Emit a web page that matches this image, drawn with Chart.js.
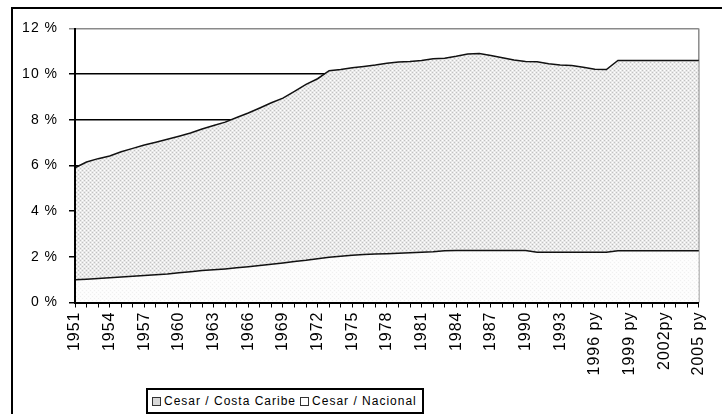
<!DOCTYPE html>
<html>
<head>
<meta charset="utf-8">
<script src="https://cdn.jsdelivr.net/npm/chart.js@4/dist/chart.umd.min.js"></script>
<style>
  html, body { margin: 0; padding: 0; background: #fff; overflow: hidden; }
  #wrap { position: relative; width: 722px; height: 414px; overflow: hidden; }
  #frame { position: absolute; left: 11px; top: 7px; width: 760px; height: 500px; border: 2px solid #000; }
  canvas { position: absolute; left: 0; top: 0; }
  #legend { position: absolute; left: 146px; top: 388px; width: 274px; height: 22px; border: 2px solid #000;
    font-family: "Liberation Sans", Arial, sans-serif; font-size: 12px; letter-spacing: 1px; color: #000;
    display: flex; align-items: center; white-space: nowrap; background: #fff; }
  .sw { display: inline-block; width: 7px; height: 7px; border: 1px solid #333; margin: 0 3px 0 4px; }
</style>
</head>
<body>
<div id="wrap">
  <div id="frame"></div>
  <canvas id="chart" width="722" height="414"></canvas>
  <div id="legend">
    <span class="sw" style="background:#d8d8d8"></span>Cesar / Costa Caribe
    <span class="sw" style="background:#fff"></span>Cesar / Nacional
  </div>
</div>
<script>
// years shown on the x axis (every third one gets a label)
var years = ['1951','1952','1953','1954','1955','1956','1957','1958','1959','1960',
  '1961','1962','1963','1964','1965','1966','1967','1968','1969','1970',
  '1971','1972','1973','1974','1975','1976','1977','1978','1979','1980',
  '1981','1982','1983','1984','1985','1986','1987','1988','1989','1990',
  '1991','1992','1993','1994 py','1995 py','1996 py','1997 py','1998 py','1999 py','2000 py',
  '2001 py','2002py','2003 py','2004 py','2005 py'];

// Cesar / Costa Caribe (%)
var costaCaribe = [5.9, 6.15, 6.3, 6.42, 6.6, 6.75, 6.9, 7.02, 7.15, 7.28,
  7.42, 7.6, 7.75, 7.9, 8.1, 8.3, 8.52, 8.75, 8.95, 9.25,
  9.55, 9.8, 10.15, 10.2, 10.28, 10.34, 10.4, 10.48, 10.53, 10.55,
  10.6, 10.68, 10.7, 10.78, 10.88, 10.9, 10.82, 10.72, 10.62, 10.56,
  10.54, 10.46, 10.4, 10.38, 10.3, 10.22, 10.2, 10.6, 10.6, 10.6,
  10.6, 10.6, 10.6, 10.6, 10.6];

// Cesar / Nacional (%)
var nacional = [1.0, 1.02, 1.05, 1.08, 1.12, 1.15, 1.18, 1.22, 1.25, 1.3,
  1.35, 1.4, 1.43, 1.47, 1.52, 1.57, 1.62, 1.67, 1.73, 1.8,
  1.85, 1.92, 1.98, 2.03, 2.07, 2.1, 2.12, 2.14, 2.16, 2.18,
  2.2, 2.22, 2.27, 2.28, 2.28, 2.28, 2.28, 2.28, 2.28, 2.28,
  2.2, 2.2, 2.2, 2.2, 2.2, 2.2, 2.2, 2.27, 2.27, 2.27,
  2.27, 2.27, 2.27, 2.27, 2.27];

var yTicks = [0, 2, 4, 6, 8, 10, 12];

// little dotted fill like the old excel pattern
function makePattern(bg, dark, light) {
    var c = document.createElement('canvas');
    c.width = 4; c.height = 4;
    var g = c.getContext('2d');
    g.fillStyle = bg;
    g.fillRect(0, 0, 4, 4);
    g.fillStyle = dark;
    g.fillRect(0, 0, 1, 1);
    g.fillRect(2, 2, 1, 1);
    g.fillStyle = light;
    g.fillRect(2, 0, 1, 1);
    g.fillRect(0, 2, 1, 1);
    return document.getElementById('chart').getContext('2d').createPattern(c, 'repeat');
}

var spacing = {
    id: 'spacing',
    beforeUpdate: function(chart) { chart.ctx.letterSpacing = '1px'; },
    beforeDraw: function(chart) { chart.ctx.letterSpacing = '1px'; }
};

// grey right edge of the plot area
var plotEdge = {
    id: 'plotEdge',
    beforeDatasetsDraw: function(chart) {
        var a = chart.chartArea, ctx = chart.ctx;
        ctx.save();
        ctx.strokeStyle = '#8a8a8a';
        ctx.lineWidth = 1.5;
        ctx.beginPath();
        ctx.moveTo(a.right, a.top);
        ctx.lineTo(a.right, a.bottom);
        ctx.stroke();
        ctx.restore();
    }
};

var fontFamily = '"Liberation Sans", Arial, sans-serif';

new Chart(document.getElementById('chart'), {
    type: 'line',
    data: {
        labels: years,
        datasets: [{
            label: 'Cesar / Nacional',
            data: nacional,
            borderColor: '#111',
            borderWidth: 1.5,
            backgroundColor: makePattern('#fcfcfc', '#f0f0f0', '#ffffff'),
            fill: 'origin',
            pointRadius: 0,
            tension: 0
        }, {
            label: 'Cesar / Costa Caribe',
            data: costaCaribe,
            borderColor: '#111',
            borderWidth: 1.5,
            backgroundColor: makePattern('#e9e9e9', '#c2c2c2', '#ffffff'),
            fill: 'origin',
            pointRadius: 0,
            tension: 0
        }]
    },
    options: {
        responsive: false,
        animation: false,
        layout: { padding: { left: 0, top: 28.5, right: 9, bottom: 0 } },
        plugins: {
            legend: { display: false },
            tooltip: { enabled: false }
        },
        scales: {
            x: {
                offset: false,
                grid: { drawOnChartArea: false, drawTicks: true, tickLength: 5, color: '#000', lineWidth: 1 },
                border: { display: true, color: '#000', width: 2, z: 1 },
                ticks: {
                    autoSkip: false,
                    minRotation: 90,
                    maxRotation: 90,
                    padding: 4,
                    color: '#000',
                    font: { family: fontFamily, size: 16 },
                    callback: function(v, i) { return i % 3 === 0 ? years[i] : ''; }
                },
                afterFit: function(scale) { scale.height = 111.5; }
            },
            y: {
                min: 0,
                max: 12,
                afterBuildTicks: function(scale) {
                    scale.ticks = yTicks.map(function(v) { return { value: v }; });
                },
                grid: {
                    tickLength: 6,
                    lineWidth: 1.5,
                    color: function(c) { return c.tick && c.tick.value === 12 ? '#8a8a8a' : '#000'; }
                },
                border: { display: true, color: '#000', width: 2, z: 1 },
                ticks: {
                    padding: 11,
                    color: '#000',
                    font: { family: fontFamily, size: 14 },
                    callback: function(v) { return v + ' %'; }
                },
                afterFit: function(scale) { scale.width = 75; }
            }
        }
    },
    plugins: [spacing, plotEdge]
});
</script>
</body>
</html>
